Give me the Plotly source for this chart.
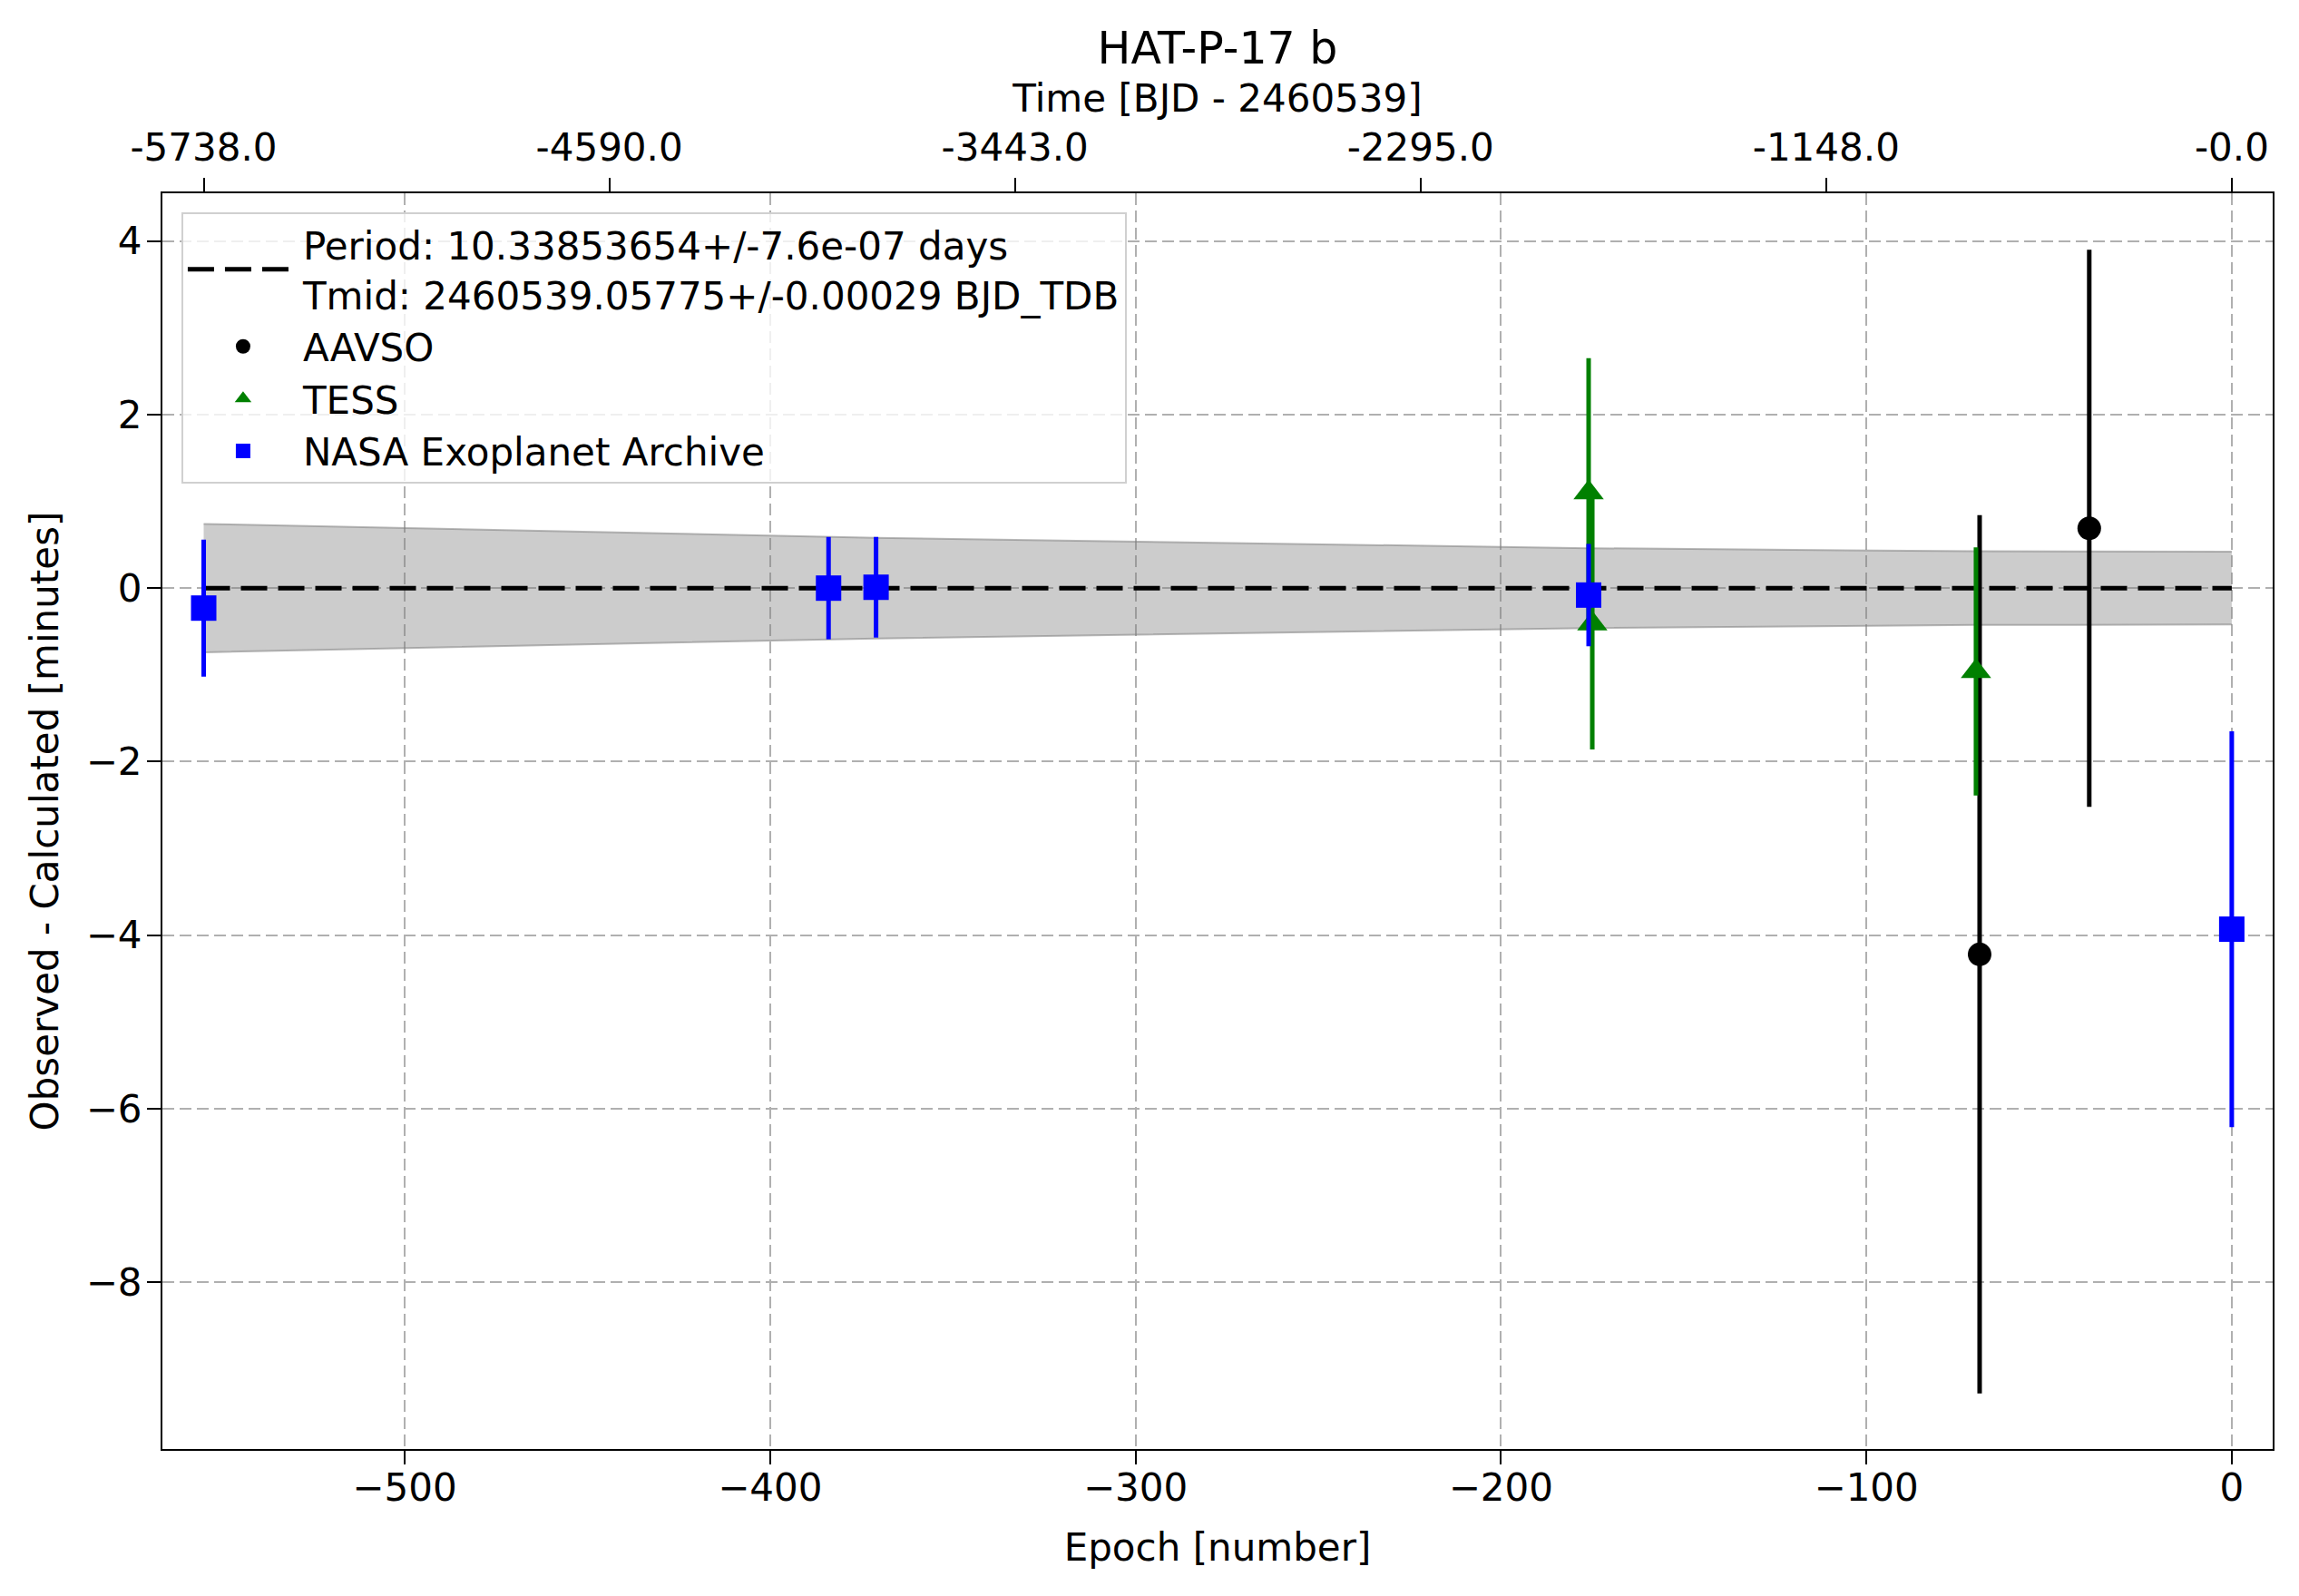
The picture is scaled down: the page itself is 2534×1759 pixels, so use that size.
import plotly.graph_objects as go

# ---- data ----
aavso_epoch = [-69, -39]
aavso_oc = [-4.22, 0.69]
aavso_err = [5.06, 3.21]

tess_epoch = [-176, -175, -70]
tess_oc = [1.10, -0.41, -0.96]
tess_err = [1.55, 1.45, 1.43]

nasa_epoch = [-555, -384, -371, -176, 0]
nasa_oc = [-0.23, 0.00, 0.01, -0.08, -3.93]
nasa_err = [0.79, 0.59, 0.58, 0.59, 2.28]

band_epoch = [-555, -384, -371, -176, -175, -70, -69, -39, 0]
band_half = [0.74, 0.59, 0.58, 0.46, 0.46, 0.425, 0.425, 0.42, 0.42]
model_oc = [0, 0, 0, 0, 0, 0, 0, 0, 0]

bottom_ticks = [-500, -400, -300, -200, -100, 0]
bottom_ticktext = ["\u2212500", "\u2212400", "\u2212300", "\u2212200", "\u2212100", "0"]
y_ticks = [4, 2, 0, -2, -4, -6, -8]
y_ticktext = ["4", "2", "0", "\u22122", "\u22124", "\u22126", "\u22128"]
top_tick_epochs = [-555, -444, -333, -222, -111, 0]
top_ticktext = ["-5738.0", "-4590.0", "-3443.0", "-2295.0", "-1148.0", "-0.0"]

period_label = "Period: 10.33853654+/-7.6e-07 days<br>Tmid: 2460539.05775+/-0.00029 BJD_TDB"

FONT = "DejaVu Sans"
FS_LABEL = 35
FS_TICK = 42
W, H = 2518, 1743  # page body has an 8px margin

fig = go.Figure()

# uncertainty band
upper = [m + h for m, h in zip(model_oc, band_half)]
lower = [m - h for m, h in zip(model_oc, band_half)]
fig.add_trace(go.Scatter(x=band_epoch, y=upper, mode="lines",
                         line=dict(color="rgba(128,128,128,0.55)", width=2),
                         showlegend=False, hoverinfo="skip"))
fig.add_trace(go.Scatter(x=band_epoch, y=lower, mode="lines", fill="tonexty",
                         fillcolor="rgba(128,128,128,0.4)",
                         line=dict(color="rgba(128,128,128,0.55)", width=2),
                         showlegend=False, hoverinfo="skip"))

# model line
fig.add_trace(go.Scatter(x=band_epoch, y=model_oc, mode="lines", name=period_label,
                         legendgroup="g0",
                         line=dict(color="black", width=5, dash="29px,12px")))

fig.add_trace(go.Scatter(x=aavso_epoch, y=aavso_oc, mode="markers", name="AAVSO",
                         legendgroup="g1",
                         marker=dict(color="black", size=26, symbol="circle"),
                         error_y=dict(type="data", array=aavso_err, color="black",
                                      thickness=5, width=0)))
fig.add_trace(go.Scatter(x=tess_epoch, y=tess_oc, mode="markers", name="TESS",
                         legendgroup="g2",
                         marker=dict(color="green", size=29, symbol="triangle-up"),
                         error_y=dict(type="data", array=tess_err, color="green",
                                      thickness=5, width=0)))
fig.add_trace(go.Scatter(x=nasa_epoch, y=nasa_oc, mode="markers", name="NASA Exoplanet Archive",
                         legendgroup="g3",
                         marker=dict(color="blue", size=28, symbol="square"),
                         error_y=dict(type="data", array=nasa_err, color="blue",
                                      thickness=5, width=0)))

# invisible trace to anchor the top axis
fig.add_trace(go.Scatter(x=[top_tick_epochs[0], top_tick_epochs[-1]], y=[0, 0], xaxis="x2",
                         mode="markers", marker=dict(opacity=0), showlegend=False,
                         hoverinfo="skip"))

xr = [-566.3, 11.2]
axis_common = dict(showline=True, linecolor="black", linewidth=2,
                   ticks="outside", ticklen=15, tickwidth=2, tickcolor="black",
                   zeroline=False, tickfont=dict(size=FS_TICK))
fig.update_layout(
    width=W, height=H,
    plot_bgcolor="white", paper_bgcolor="white",
    font=dict(family=FONT, size=FS_LABEL, color="black"),
    margin=dict(l=171, r=21, t=205, b=154),
    title=dict(text="HAT-P-17 b", x=0.5, xref="paper", xanchor="center", y=1 - 45 / H,
               yanchor="middle", yref="container", font=dict(size=49)),
    xaxis=dict(range=xr, tickvals=bottom_ticks, ticktext=bottom_ticktext,
               mirror=True, ticklabelstandoff=-10,
               showgrid=True, gridcolor="#b0b0b0", gridwidth=2, griddash="13px,6px",
               title=dict(text="Epoch [number]", standoff=27), **axis_common),
    xaxis2=dict(range=xr, overlaying="x", side="top", anchor="y",
                tickvals=top_tick_epochs, ticktext=top_ticktext,
                ticklabelstandoff=2, showgrid=False,
                title=dict(text="Time [BJD - 2460539]", standoff=2), **axis_common),
    yaxis=dict(range=[-9.92, 4.55], tickvals=y_ticks, ticktext=y_ticktext,
               mirror=True, ticklabelstandoff=-3,
               showgrid=True, gridcolor="#b0b0b0", gridwidth=2, griddash="13px,6px",
               title=dict(text="Observed - Calculated [minutes]", standoff=17), **axis_common),
    legend=dict(x=0.009, y=0.985, xanchor="left", yanchor="top",
                traceorder="normal", tracegroupgap=8, itemwidth=122,
                bgcolor="rgba(255,255,255,0.8)", bordercolor="#d0d0d0", borderwidth=2,
                font=dict(size=42)),
    showlegend=True,
)

fig.write_html("out.html")
